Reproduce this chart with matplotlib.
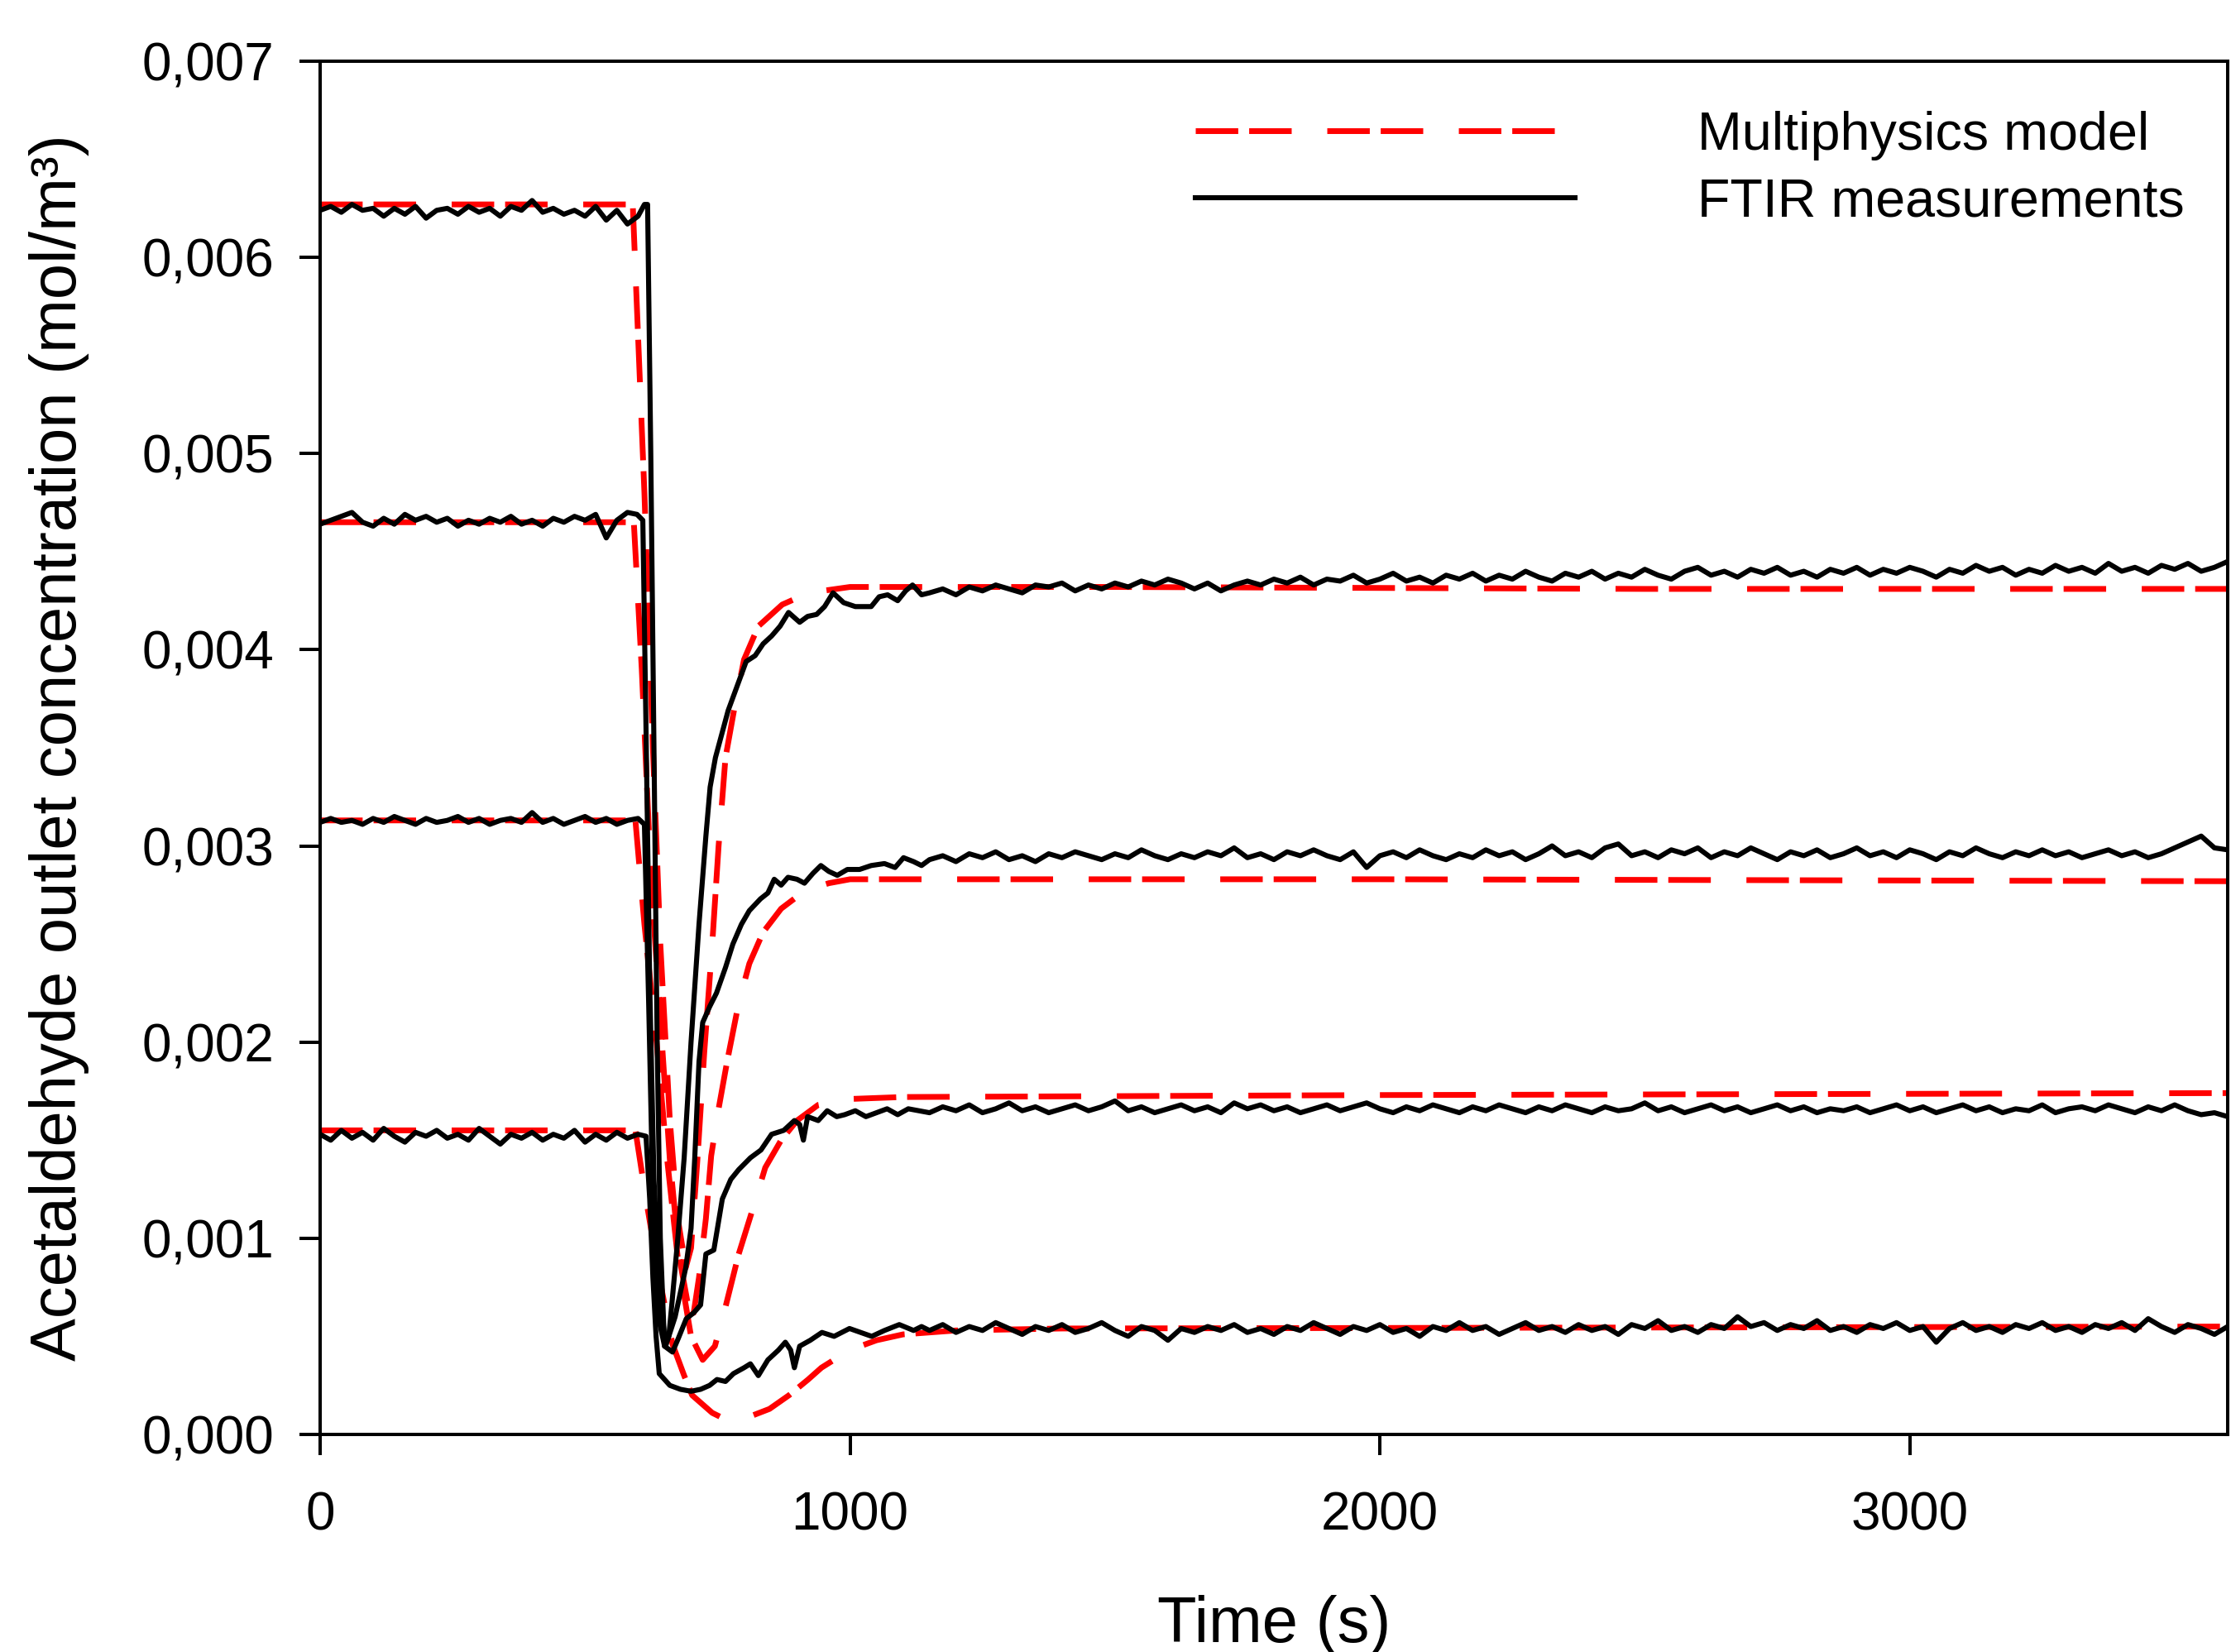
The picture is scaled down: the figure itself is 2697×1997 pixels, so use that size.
import numpy as np
import matplotlib
matplotlib.use("Agg")
import matplotlib.pyplot as plt
from matplotlib.ticker import FuncFormatter, FixedLocator
from matplotlib.lines import Line2D

plt.rcParams['font.family'] = ['Liberation Sans', 'DejaVu Sans']
plt.rcParams['lines.scale_dashes'] = False

# ---------------- data (concentrations in 10^-3 mol/m3) ----------------
SCALE = 1e-3

# FTIR measurements: steady part before the step (t = 0..580 s, every 20 s)
pre_t0, pre_dt = 0, 20
meas_A_pre = [6.24, 6.26, 6.23, 6.27, 6.24, 6.25, 6.21, 6.25, 6.22, 6.26,
              6.20, 6.24, 6.25, 6.22, 6.26, 6.23, 6.25, 6.21, 6.26, 6.24,
              6.29, 6.23, 6.25, 6.22, 6.24, 6.21, 6.26, 6.19, 6.24, 6.17]
meas_B_pre = [4.64, 4.66, 4.68, 4.70, 4.65, 4.63, 4.67, 4.64, 4.69, 4.66,
              4.68, 4.65, 4.67, 4.63, 4.66, 4.64, 4.67, 4.65, 4.68, 4.64,
              4.66, 4.63, 4.67, 4.65, 4.68, 4.66, 4.69, 4.57, 4.66, 4.70]
meas_C_pre = [3.12, 3.14, 3.12, 3.13, 3.11, 3.14, 3.12, 3.15, 3.13, 3.11,
              3.14, 3.12, 3.13, 3.15, 3.12, 3.14, 3.11, 3.13, 3.14, 3.12,
              3.17, 3.12, 3.14, 3.11, 3.13, 3.15, 3.12, 3.14, 3.11, 3.13]
meas_D_pre = [1.53, 1.50, 1.55, 1.51, 1.54, 1.50, 1.56, 1.52, 1.49, 1.54,
              1.52, 1.55, 1.51, 1.53, 1.50, 1.56, 1.52, 1.48, 1.53, 1.51,
              1.54, 1.50, 1.53, 1.51, 1.55, 1.49, 1.53, 1.50, 1.54, 1.51]

# FTIR measurements: transient around the step
meas_A_tr_t = [600, 612, 618, 624, 630, 636, 642, 650, 658, 665, 675, 687, 700, 715,
               728, 736, 746, 756, 770, 785, 804, 821, 836, 852, 868, 884, 905, 920,
               937, 952, 968, 988, 1010, 1040, 1055, 1071, 1090, 1105, 1118, 1135]
meas_A_tr = [6.21, 6.27, 6.27, 5.0, 3.5, 2.0, 1.0, 0.45, 0.50, 0.70, 1.00, 1.41, 2.00, 2.60,
             3.05, 3.30, 3.45, 3.55, 3.69, 3.80, 3.94, 3.97, 4.03, 4.07, 4.12, 4.19, 4.14, 4.17,
             4.18, 4.22, 4.29, 4.24, 4.22, 4.22, 4.27, 4.28, 4.25, 4.30, 4.33, 4.28]
meas_B_tr_t = [598, 609, 615, 622, 630, 640, 652, 670, 690, 700, 707, 715, 722, 735,
               748, 765, 779, 795, 810, 831, 845, 857, 870, 883, 900, 914, 930, 945,
               960, 976, 995, 1018, 1040, 1065, 1085, 1101, 1120, 1135]
meas_B_tr = [4.69, 4.66, 3.60, 2.30, 1.30, 0.75, 0.45, 0.60, 0.85, 1.05, 1.41, 1.90, 2.10, 2.18,
             2.25, 2.38, 2.50, 2.60, 2.67, 2.73, 2.76, 2.83, 2.80, 2.84, 2.83, 2.81, 2.86, 2.90,
             2.87, 2.85, 2.88, 2.88, 2.90, 2.91, 2.89, 2.94, 2.92, 2.90]
meas_C_tr_t = [600, 612, 620, 628, 638, 650, 665, 676, 691, 705, 718, 728, 743, 759,
               775, 790, 812, 832, 852, 875, 895, 905, 912, 920, 940, 957, 975, 990,
               1010, 1030, 1050, 1070, 1090, 1110, 1130]
meas_C_tr = [3.14, 3.11, 2.20, 1.20, 0.60, 0.45, 0.42, 0.49, 0.59, 0.62, 0.66, 0.92, 0.94, 1.20,
             1.30, 1.35, 1.41, 1.45, 1.53, 1.55, 1.60, 1.58, 1.50, 1.62, 1.60, 1.65, 1.62, 1.63,
             1.65, 1.62, 1.64, 1.66, 1.63, 1.66, 1.65]
meas_D_tr_t = [600, 615, 622, 628, 634, 640, 660, 680, 700, 718, 735, 749, 765, 780,
               800, 812, 827, 845, 865, 878, 888, 895, 905, 925, 947, 970, 999, 1020,
               1041, 1065, 1093, 1120, 1135]
meas_D_tr = [1.53, 1.52, 1.20, 0.80, 0.50, 0.31, 0.25, 0.23, 0.22, 0.23, 0.25, 0.28, 0.27, 0.31,
             0.34, 0.36, 0.30, 0.38, 0.43, 0.47, 0.43, 0.34, 0.45, 0.48, 0.52, 0.50, 0.54, 0.52,
             0.50, 0.53, 0.56, 0.53, 0.55]

# FTIR measurements: after the step (t = 1150..3600 s, every 25 s)
post_t0, post_dt = 1150, 25
meas_A_post = [4.29, 4.31, 4.28, 4.32, 4.30, 4.33, 4.31, 4.29, 4.33, 4.32,
               4.34, 4.30, 4.33, 4.31, 4.34, 4.32, 4.35, 4.33, 4.36, 4.34,
               4.31, 4.34, 4.30, 4.33, 4.35, 4.33, 4.36, 4.34, 4.37, 4.33,
               4.36, 4.35, 4.38, 4.34, 4.36, 4.39, 4.35, 4.37, 4.34, 4.38,
               4.36, 4.39, 4.35, 4.38, 4.36, 4.40, 4.37, 4.35, 4.39, 4.37,
               4.40, 4.36, 4.39, 4.37, 4.41, 4.38, 4.36, 4.40, 4.42, 4.38,
               4.40, 4.37, 4.41, 4.39, 4.42, 4.38, 4.40, 4.37, 4.41, 4.39,
               4.42, 4.38, 4.41, 4.39, 4.42, 4.40, 4.37, 4.41, 4.39, 4.43,
               4.40, 4.42, 4.38, 4.41, 4.39, 4.43, 4.40, 4.42, 4.39, 4.44,
               4.40, 4.42, 4.39, 4.43, 4.41, 4.44, 4.40, 4.42, 4.45]
meas_B_post = [2.93, 2.95, 2.92, 2.96, 2.94, 2.97, 2.93, 2.95, 2.92, 2.96,
               2.94, 2.97, 2.95, 2.93, 2.96, 2.94, 2.98, 2.95, 2.93, 2.96,
               2.94, 2.97, 2.95, 2.99, 2.94, 2.96, 2.93, 2.97, 2.95, 2.98,
               2.95, 2.93, 2.97, 2.89, 2.95, 2.97, 2.94, 2.98, 2.95, 2.93,
               2.96, 2.94, 2.98, 2.95, 2.97, 2.93, 2.96, 3.00, 2.95, 2.97,
               2.94, 2.99, 3.01, 2.95, 2.97, 2.94, 2.98, 2.96, 2.99, 2.94,
               2.97, 2.95, 2.99, 2.96, 2.93, 2.97, 2.95, 2.98, 2.94, 2.96,
               2.99, 2.95, 2.97, 2.94, 2.98, 2.96, 2.93, 2.97, 2.95, 2.99,
               2.96, 2.94, 2.97, 2.95, 2.98, 2.95, 2.97, 2.94, 2.96, 2.98,
               2.95, 2.97, 2.94, 2.96, 2.99, 3.02, 3.05, 2.99, 2.98]
meas_C_post = [1.64, 1.67, 1.65, 1.68, 1.64, 1.66, 1.69, 1.65, 1.67, 1.64,
               1.66, 1.68, 1.65, 1.67, 1.70, 1.65, 1.67, 1.64, 1.66, 1.68,
               1.65, 1.67, 1.64, 1.69, 1.66, 1.68, 1.65, 1.67, 1.64, 1.66,
               1.68, 1.65, 1.67, 1.69, 1.66, 1.64, 1.67, 1.65, 1.68, 1.66,
               1.64, 1.67, 1.65, 1.68, 1.66, 1.64, 1.67, 1.65, 1.68, 1.66,
               1.64, 1.67, 1.65, 1.66, 1.69, 1.65, 1.67, 1.64, 1.66, 1.68,
               1.65, 1.67, 1.64, 1.66, 1.68, 1.65, 1.67, 1.64, 1.66, 1.65,
               1.67, 1.64, 1.66, 1.68, 1.65, 1.67, 1.64, 1.66, 1.68, 1.65,
               1.67, 1.64, 1.66, 1.65, 1.68, 1.64, 1.66, 1.67, 1.65, 1.68,
               1.66, 1.64, 1.67, 1.65, 1.68, 1.65, 1.63, 1.64, 1.62]
meas_D_post = [0.53, 0.56, 0.52, 0.55, 0.53, 0.57, 0.54, 0.51, 0.55, 0.53,
               0.56, 0.52, 0.54, 0.57, 0.53, 0.50, 0.55, 0.53, 0.48, 0.54,
               0.52, 0.55, 0.53, 0.56, 0.52, 0.54, 0.51, 0.55, 0.53, 0.57,
               0.54, 0.51, 0.55, 0.53, 0.56, 0.52, 0.54, 0.50, 0.55, 0.53,
               0.57, 0.53, 0.55, 0.51, 0.54, 0.57, 0.53, 0.55, 0.52, 0.56,
               0.53, 0.55, 0.51, 0.56, 0.54, 0.58, 0.53, 0.55, 0.52, 0.56,
               0.54, 0.60, 0.55, 0.57, 0.53, 0.56, 0.54, 0.58, 0.53, 0.55,
               0.52, 0.56, 0.54, 0.57, 0.53, 0.55, 0.47, 0.54, 0.57, 0.53,
               0.55, 0.52, 0.56, 0.54, 0.57, 0.53, 0.55, 0.52, 0.56, 0.54,
               0.57, 0.53, 0.59, 0.55, 0.52, 0.56, 0.54, 0.51, 0.55]

# Multiphysics model curves
model_A_t = [0, 590, 600, 612, 628, 642, 660, 675, 690, 700, 712, 725, 740, 752,
             765, 783, 800, 827, 872, 922, 1000, 1500, 2500, 3600]
model_A = [6.27, 6.27, 5.60, 4.80, 3.50, 2.50, 1.60, 1.10, 0.85, 0.95, 1.40, 1.95, 2.50, 3.00,
           3.45, 3.72, 3.95, 4.12, 4.23, 4.29, 4.32, 4.32, 4.31, 4.31]
model_B_t = [0, 592, 607, 625, 645, 660, 678, 695, 705, 715, 728, 738, 752, 768,
             790, 810, 836, 870, 914, 960, 1000, 2000, 3600]
model_B = [4.65, 4.65, 3.90, 2.80, 2.00, 1.40, 0.90, 0.65, 0.62, 0.80, 1.10, 1.42, 1.66, 1.90,
           2.20, 2.40, 2.56, 2.68, 2.77, 2.81, 2.83, 2.83, 2.82]
model_C_t = [0, 595, 612, 635, 655, 675, 700, 722, 745, 765, 790, 820, 840, 870,
             900, 940, 1000, 1100, 2000, 3600]
model_C = [3.13, 3.13, 2.60, 2.00, 1.40, 0.90, 0.50, 0.38, 0.45, 0.65, 0.92, 1.18, 1.36, 1.50,
           1.60, 1.68, 1.71, 1.72, 1.73, 1.74]
model_D_t = [0, 595, 615, 640, 665, 687, 702, 740, 770, 800, 848, 885, 921, 946,
             999, 1050, 1100, 1200, 1400, 3600]
model_D = [1.55, 1.55, 1.20, 0.80, 0.46, 0.30, 0.20, 0.11, 0.07, 0.08, 0.13, 0.20, 0.28, 0.34,
           0.43, 0.48, 0.51, 0.53, 0.54, 0.55]

legend_labels = ["Multiphysics model", "FTIR measurements"]
x_ticks = [0, 1000, 2000, 3000]
y_ticks = [0.000, 0.001, 0.002, 0.003, 0.004, 0.005, 0.006, 0.007]
x_label = "Time (s)"
y_label = "Acetaldehyde outlet concentration (mol/m³)"


def measured(pre, tr_t, tr, post):
    t = np.concatenate([pre_t0 + pre_dt * np.arange(len(pre)), tr_t,
                        post_t0 + post_dt * np.arange(len(post))])
    c = np.concatenate([pre, tr, post]) * SCALE
    return t, c


meas = [measured(meas_A_pre, meas_A_tr_t, meas_A_tr, meas_A_post),
        measured(meas_B_pre, meas_B_tr_t, meas_B_tr, meas_B_post),
        measured(meas_C_pre, meas_C_tr_t, meas_C_tr, meas_C_post),
        measured(meas_D_pre, meas_D_tr_t, meas_D_tr, meas_D_post)]
models = [(model_A_t, model_A), (model_B_t, model_B),
          (model_C_t, model_C), (model_D_t, model_D)]

# ---------------- figure ----------------
W, H = 2697, 1997
DPI = 100
fig = plt.figure(figsize=(W / DPI, H / DPI), dpi=DPI)
ax = fig.add_axes([387 / W, 1 - 1734 / H, (2693 - 387) / W, (1734 - 74) / H])

RED = "#ff0000"
dash = (37, 9.5, 37, 31)
RED_LW = 5.0
BLK_LW = 4.4
for t, c in models:
    ax.plot(t, np.asarray(c) * SCALE, color=RED, lw=RED_LW, dashes=dash,
            dash_capstyle='butt', zorder=2)
for t, c in meas:
    ax.plot(t, c, color="black", lw=BLK_LW, solid_joinstyle='round', zorder=3)

ax.set_xlim(0, 3600)
ax.set_ylim(0, 0.007)
ax.xaxis.set_major_locator(FixedLocator(x_ticks))
ax.yaxis.set_major_locator(FixedLocator(y_ticks))
ax.yaxis.set_major_formatter(FuncFormatter(lambda v, p: f"{v:.3f}".replace('.', ',')))

for s in ax.spines.values():
    s.set_linewidth(2.9)
ax.tick_params(axis='both', which='major', direction='out', length=18, width=2.9,
               labelsize=46, colors='black')
ax.tick_params(axis='y', pad=22)
ax.tick_params(axis='x', pad=31)

ax.set_xlabel(x_label, fontsize=56)
ax.set_ylabel(y_label, fontsize=56)
ax.xaxis.set_label_coords(0.5, (1734 - 1928) / 1660)
ax.yaxis.set_label_coords((108 - 387) / 2306, 0.5)

handles = [Line2D([], [], color=RED, lw=RED_LW, dashes=dash, dash_capstyle='butt'),
           Line2D([], [], color='black', lw=BLK_LW)]
leg = ax.legend(handles, legend_labels, loc='upper left',
                bbox_to_anchor=((1445 - 387) / 2306, (1734 - 134) / 1660),
                frameon=False, fontsize=46.5, handlelength=7.1, handletextpad=2.3,
                borderpad=0, borderaxespad=0, labelspacing=0.32)

fig.savefig("out.png", dpi=DPI)
